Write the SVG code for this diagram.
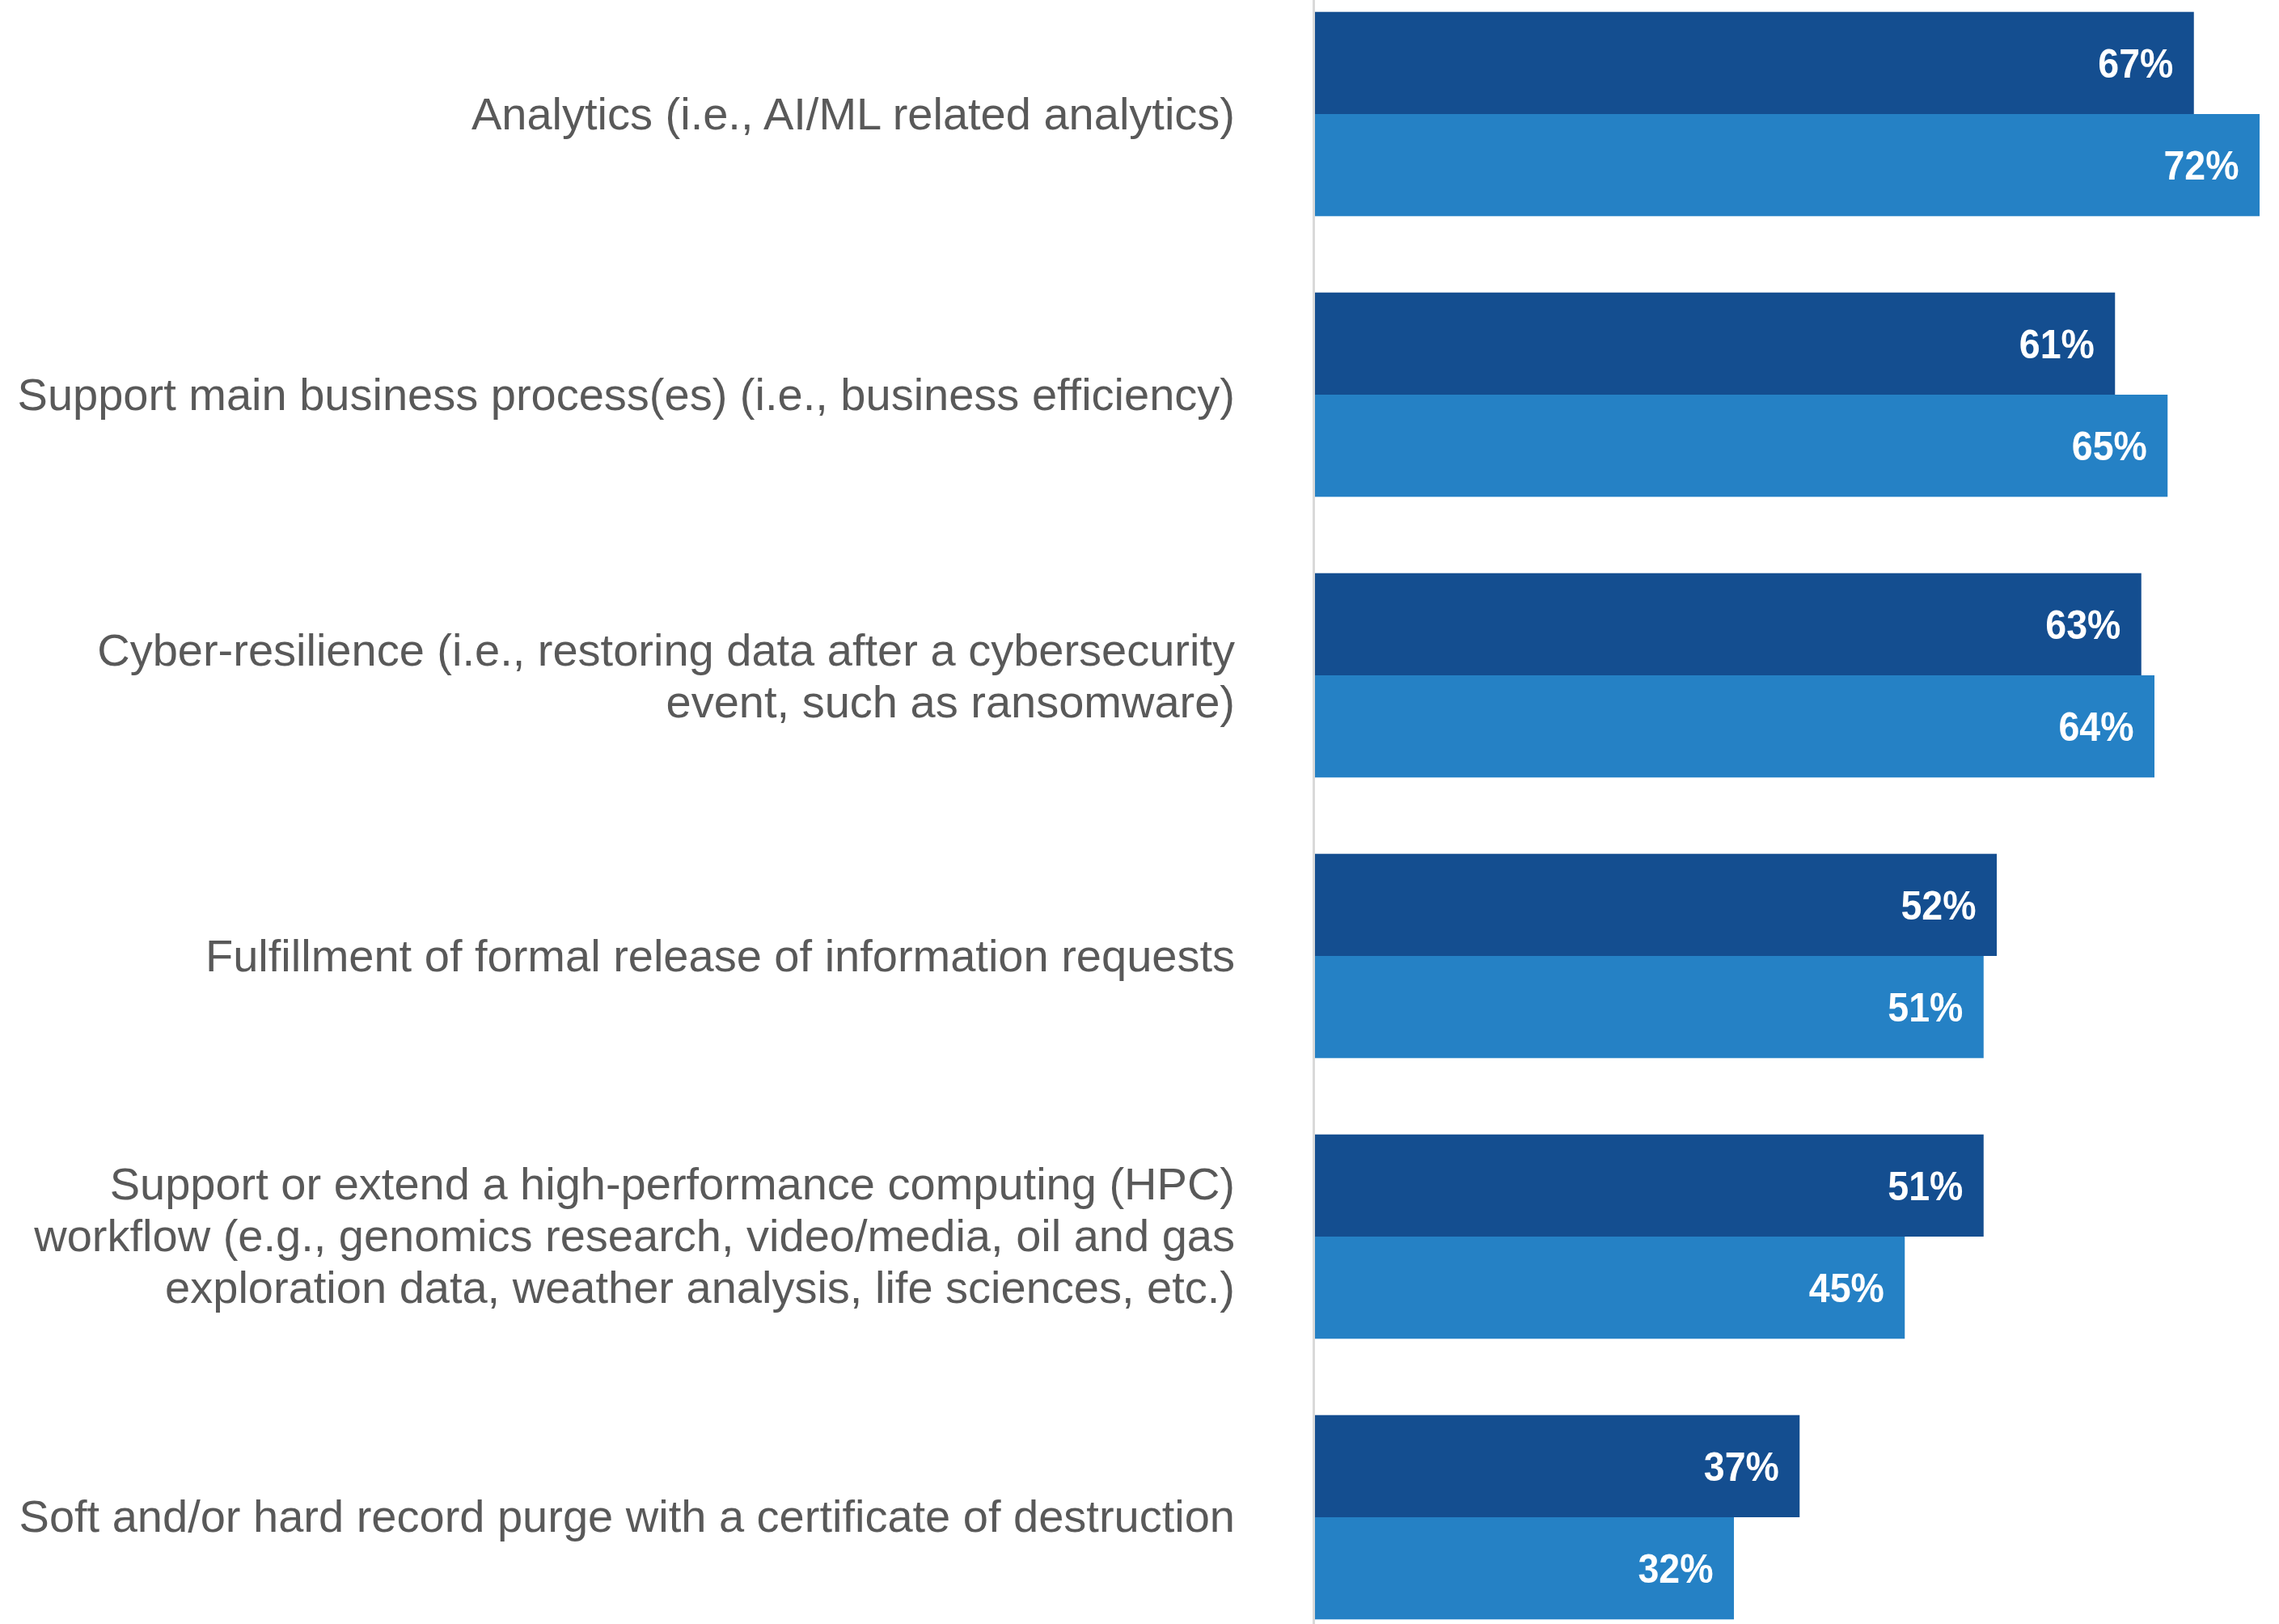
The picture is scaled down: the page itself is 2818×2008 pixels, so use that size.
<svg xmlns="http://www.w3.org/2000/svg" width="2818" height="2008" viewBox="0 0 2818 2008">
<style>
.cat{font-family:"Liberation Sans",Arial,sans-serif;font-size:56px;fill:#595959;text-anchor:end}
.val{font-family:"Liberation Sans",Arial,sans-serif;font-size:50px;font-weight:bold;fill:#ffffff;text-anchor:end}
.d{fill:#144e90}
.l{fill:#2581c5}
</style>
<rect width="2818" height="2008" fill="#ffffff"/>
<g id="axis"><line x1="1624.5" y1="0" x2="1624.5" y2="2008" stroke="#d9d9d9" stroke-width="3"/></g>
<g id="connectors"></g>
<g id="cat1">
<text class="cat" x="1527" y="160">Analytics (i.e., AI/ML related analytics)</text>
<rect class="d" x="1626" y="14.7" width="1086.75" height="126.3"/>
<rect class="l" x="1626" y="141" width="1168" height="126.3"/>
<text class="val" x="2687.3" y="96" textLength="93" lengthAdjust="spacingAndGlyphs">67%</text>
<text class="val" x="2768.5" y="222" textLength="93" lengthAdjust="spacingAndGlyphs">72%</text>
</g>
<g id="cat2">
<text class="cat" x="1527" y="507">Support main business process(es) (i.e., business efficiency)</text>
<rect class="d" x="1626" y="361.7" width="989.25" height="126.3"/>
<rect class="l" x="1626" y="488" width="1054.25" height="126.3"/>
<text class="val" x="2589.8" y="443" textLength="93" lengthAdjust="spacingAndGlyphs">61%</text>
<text class="val" x="2654.8" y="569" textLength="93" lengthAdjust="spacingAndGlyphs">65%</text>
</g>
<g id="cat3">
<text class="cat" x="1527" y="823">Cyber-resilience (i.e., restoring data after a cybersecurity</text>
<text class="cat" x="1527" y="887">event, such as ransomware)</text>
<rect class="d" x="1626" y="708.7" width="1021.75" height="126.3"/>
<rect class="l" x="1626" y="835" width="1038" height="126.3"/>
<text class="val" x="2622.3" y="790" textLength="93" lengthAdjust="spacingAndGlyphs">63%</text>
<text class="val" x="2638.5" y="916" textLength="93" lengthAdjust="spacingAndGlyphs">64%</text>
</g>
<g id="cat4">
<text class="cat" x="1527" y="1201">Fulfillment of formal release of information requests</text>
<rect class="d" x="1626" y="1055.7" width="843" height="126.3"/>
<rect class="l" x="1626" y="1182" width="826.75" height="126.3"/>
<text class="val" x="2443.5" y="1137" textLength="93" lengthAdjust="spacingAndGlyphs">52%</text>
<text class="val" x="2427.3" y="1263" textLength="93" lengthAdjust="spacingAndGlyphs">51%</text>
</g>
<g id="cat5">
<text class="cat" x="1527" y="1483">Support or extend a high-performance computing (HPC)</text>
<text class="cat" x="1527" y="1547">workflow (e.g., genomics research, video/media, oil and gas</text>
<text class="cat" x="1527" y="1611">exploration data, weather analysis, life sciences, etc.)</text>
<rect class="d" x="1626" y="1402.7" width="826.75" height="126.3"/>
<rect class="l" x="1626" y="1529" width="729.25" height="126.3"/>
<text class="val" x="2427.3" y="1484" textLength="93" lengthAdjust="spacingAndGlyphs">51%</text>
<text class="val" x="2329.8" y="1610" textLength="93" lengthAdjust="spacingAndGlyphs">45%</text>
</g>
<g id="cat6">
<text class="cat" x="1527" y="1894">Soft and/or hard record purge with a certificate of destruction</text>
<rect class="d" x="1626" y="1749.7" width="599.25" height="126.3"/>
<rect class="l" x="1626" y="1876" width="518" height="126.3"/>
<text class="val" x="2199.8" y="1831" textLength="93" lengthAdjust="spacingAndGlyphs">37%</text>
<text class="val" x="2118.5" y="1957" textLength="93" lengthAdjust="spacingAndGlyphs">32%</text>
</g>
</svg>
